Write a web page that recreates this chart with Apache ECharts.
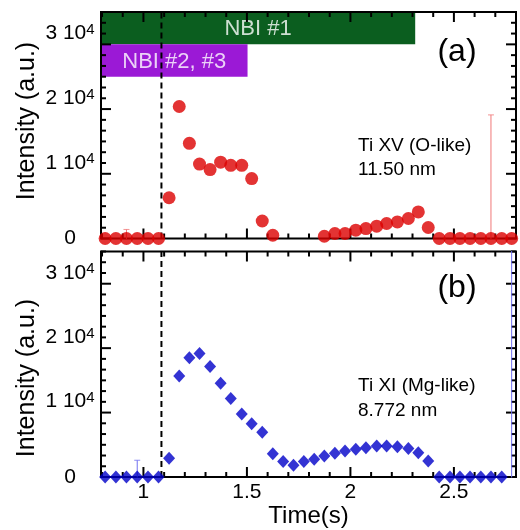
<!DOCTYPE html>
<html>
<head>
<meta charset="utf-8">
<script src="https://cdn.jsdelivr.net/npm/echarts@6/dist/echarts.min.js"></script>
<style>
  html, body { margin: 0; padding: 0; background: #fff; }
  #chart { width: 520px; height: 530px; }
</style>
</head>
<body>
<div id="chart"></div>
<script>
// time of each frame (s)
const times = [0.815, 0.867, 0.918, 0.970, 1.022, 1.073, 1.124, 1.173, 1.222, 1.271,
  1.322, 1.373, 1.422, 1.475, 1.523, 1.574, 1.625, 1.675, 1.725, 1.775,
  1.825, 1.874, 1.925, 1.974, 2.026, 2.075, 2.127, 2.175, 2.227, 2.280,
  2.328, 2.376, 2.429, 2.481, 2.529, 2.578, 2.630, 2.679, 2.731, 2.779];
// Ti XV (O-like) 11.50 nm
const tiXV = [0, 0, 0, 0, 0, 0, 6300, 20400, 14700, 11500,
  10650, 11800, 11300, 11300, 9260, 2700, 500, null, null, null,
  null, 350, 770, 770, 1280, 1540, 1900, 2320, 2560, 3090,
  4100, 1700, 0, 0, 0, 0, 0, 0, 0, 0];
// Ti XI (Mg-like) 8.772 nm
const tiXI = [0, 0, 0, 0, 0, 0, 2900, 15660, 18500, 19150,
  17150, 14550, 12200, 9770, 8270, 6930, 3600, 2400, 1810, 2400,
  2740, 3260, 3670, 4030, 4290, 4550, 4810, 4810, 4700, 4440,
  3770, 2480, 0, 0, 0, 0, 0, 0, 0, null];
// error bars: [time, value, error]
const errTiXV = [[0.918, 0, 1400], [2.679, 0, 19100]];
const errTiXI = [[0.970, 0, 2600], [2.779, 0, 50000]];

// beam timing
const beamStart = 1.087;
const nbiNames = ["NBI #1", "NBI #2, #3"];
const nbiEnd = [2.313, 1.503];
const nbiLow = [30000, 25000];
const nbiHigh = [35000, 30000];

// axes
const xMin = 0.795, xMax = 2.8;
const yMin = 0, yMax = 35000;
const xMajor = [1, 1.5, 2, 2.5];
const xMinor = [0.8, 0.9, 1.1, 1.2, 1.3, 1.4, 1.6, 1.7, 1.8, 1.9,
  2.1, 2.2, 2.3, 2.4, 2.6, 2.7, 2.8];
const yMajor = [0, 10000, 20000, 30000];
const yLabeled = [10000, 20000, 30000];
const yMinor = [];
for (let k = 0; k <= 21; k++) if (k % 6 !== 0) yMinor.push(k * 10000 / 6);

const FONT = "Liberation Sans, Arial, sans-serif";
const nbiColors = ["#0b5e1f", "#9b19d6"];
const panels = [
  { vals: tiXV, err: errTiXV, color: "#dc0000", errColor: "#f07878", symbol: "circle", size: 13,
    tag: "(a)", tagY: 52, line1: "Ti XV (O-like)", line2: "11.50 nm", textY: 145.5, nameY: 121 },
  { vals: tiXI, err: errTiXI, color: "#0000c8", errColor: "#7070f0", symbol: "diamond", size: [12, 13],
    tag: "(b)", tagY: 288, line1: "Ti XI (Mg-like)", line2: "8.772 nm", textY: 386, nameY: 378 },
];

const grids = [
  { left: 101, top: 12, width: 415, height: 226.5 },
  { left: 101, top: 251.5, width: 415, height: 225.5 },
];

const chart = echarts.init(document.getElementById("chart"));

const xAxes = [];
const yAxes = [];
grids.forEach((g, gi) => {
  const xa = {
    gridIndex: gi, type: "value", min: xMin, max: xMax, position: "bottom",
    axisLine: { show: false }, axisTick: { show: false }, splitLine: { show: false },
    axisLabel: gi === 1
      ? { show: true, customValues: xMajor, fontSize: 21, color: "#000", fontFamily: FONT, margin: 5 }
      : { show: false },
  };
  if (gi === 1) {
    xa.name = "Time(s)";
    xa.nameLocation = "middle";
    xa.nameGap = 26;
    xa.nameTextStyle = { fontSize: 24, color: "#000", fontFamily: FONT };
  }
  xAxes.push(xa);
  yAxes.push({
    gridIndex: gi, type: "value", min: yMin, max: yMax, position: "left",
    axisLine: { show: false }, axisTick: { show: false }, splitLine: { show: false },
    axisLabel: {
      show: true, customValues: yLabeled, align: "center", margin: 31, verticalAlign: "bottom",
      formatter: (v) => "{n|" + v / 10000 + " 10}{s|4}",
      rich: {
        n: { fontSize: 21, lineHeight: 22, color: "#000", fontFamily: FONT },
        s: { fontSize: 15, lineHeight: 15, color: "#000", fontFamily: FONT, verticalAlign: "top" },
      },
    },
  });
  yAxes.push({
    gridIndex: gi, type: "value", min: yMin, max: yMax, position: "left",
    axisLine: { show: false }, axisTick: { show: false }, splitLine: { show: false },
    axisLabel: {
      show: true, customValues: [0], align: "center", margin: 31, verticalAlign: "middle",
      fontSize: 21, color: "#000", fontFamily: FONT, formatter: () => "0",
    },
  });
});

// frame and inward ticks on all four sides: [value, side (0 = x, 1 = y, 2 = frame), length]
const frameTicks = [[0, 2, 0]]
  .concat(xMajor.map((v) => [v, 0, 10]), xMinor.map((v) => [v, 0, 5]))
  .concat(yMajor.map((v) => [v, 1, 10]), yMinor.map((v) => [v, 1, 5]));

function drawFrame(params, api) {
  const cs = params.coordSys;
  const v = api.value(0), side = api.value(1), len = api.value(2);
  const style = { stroke: "#000", lineWidth: 2, fill: null };
  const b = cs.y + cs.height, r = cs.x + cs.width;
  if (side === 2) {
    return { type: "rect", shape: { x: cs.x, y: cs.y, width: cs.width, height: cs.height }, style };
  }
  if (side === 0) {
    const px = api.coord([v, yMin])[0];
    return {
      type: "group",
      children: [
        { type: "line", shape: { x1: px, y1: b, x2: px, y2: b - len }, style },
        { type: "line", shape: { x1: px, y1: cs.y, x2: px, y2: cs.y + len }, style },
      ],
    };
  }
  const py = api.coord([xMin, v])[1];
  return {
    type: "group",
    children: [
      { type: "line", shape: { x1: cs.x, y1: py, x2: cs.x + len, y2: py }, style },
      { type: "line", shape: { x1: r, y1: py, x2: r - len, y2: py }, style },
    ],
  };
}

const series = [];
// NBI heating windows
series.push({
  type: "custom", xAxisIndex: 0, yAxisIndex: 0, z: -1, clip: true,
  data: nbiNames.map((n, i) => [xMin, nbiEnd[i], nbiLow[i], nbiHigh[i], i]),
  renderItem: (params, api) => {
    const i = api.value(4);
    const p0 = api.coord([api.value(0), api.value(3)]);
    const p1 = api.coord([api.value(1), api.value(2)]);
    return { type: "rect", shape: { x: p0[0], y: p0[1], width: p1[0] - p0[0], height: p1[1] - p0[1] },
      style: { fill: nbiColors[i] } };
  },
});
series.push({
  type: "scatter", xAxisIndex: 0, yAxisIndex: 0, z: 0, symbolSize: 0, silent: true,
  data: nbiNames.map((n, i) => ({ value: [(xMin + nbiEnd[i]) / 2, (nbiLow[i] + nbiHigh[i]) / 2], name: n })),
  label: { show: true, position: "inside", formatter: "{b}", color: "#fff", fontSize: 22, fontFamily: FONT, offset: [0, 1] },
});

panels.forEach((p, gi) => {
  const xi = gi, yi = gi * 2;
  series.push({
    type: "custom", xAxisIndex: xi, yAxisIndex: yi, z: 1, clip: false, silent: true,
    data: frameTicks, renderItem: drawFrame,
  });
  // start of the beam
  series.push({
    type: "line", xAxisIndex: xi, yAxisIndex: yi, z: 2, symbol: "none", silent: true,
    data: [[beamStart, yMin], [beamStart, yMax]],
    lineStyle: { color: "#000", width: 2, type: [6, 4] },
  });
  p.err.forEach(([x, v, e]) => {
    series.push({
      type: "line", xAxisIndex: xi, yAxisIndex: yi, z: 2, symbol: "none", silent: true,
      data: [[x, v - e], [x, v + e]], lineStyle: { color: p.errColor, width: 1 },
    });
    series.push({
      type: "scatter", xAxisIndex: xi, yAxisIndex: yi, z: 2, symbol: "rect", symbolSize: [6, 1], silent: true,
      data: [[x, v - e], [x, v + e]], itemStyle: { color: p.errColor },
    });
  });
  series.push({
    type: "scatter", xAxisIndex: xi, yAxisIndex: yi, z: 3, clip: false,
    symbol: p.symbol, symbolSize: p.size, itemStyle: { color: p.color },
    data: times.map((t, i) => [t, p.vals[i]]).filter((d) => d[1] !== null),
  });
});

const txt = (x, y, text, size, align, extra) => Object.assign({
  type: "text", x, y, z: 10,
  style: { text, fill: "#000", font: size + "px " + FONT, align, verticalAlign: "middle" },
}, extra || {});
const graphic = [];
panels.forEach((p) => {
  graphic.push(txt(27, p.nameY, "Intensity (a.u.)", 25, "center", { rotation: Math.PI / 2 }));
  graphic.push(txt(457, p.tagY, p.tag, 32, "center"));
  graphic.push(txt(358, p.textY, p.line1, 19, "left"));
  graphic.push(txt(358, p.textY + 24.5, p.line2, 19, "left"));
});

chart.setOption({
  animation: false,
  grid: grids,
  xAxis: xAxes,
  yAxis: yAxes,
  series,
  graphic,
});
</script>
</body>
</html>
